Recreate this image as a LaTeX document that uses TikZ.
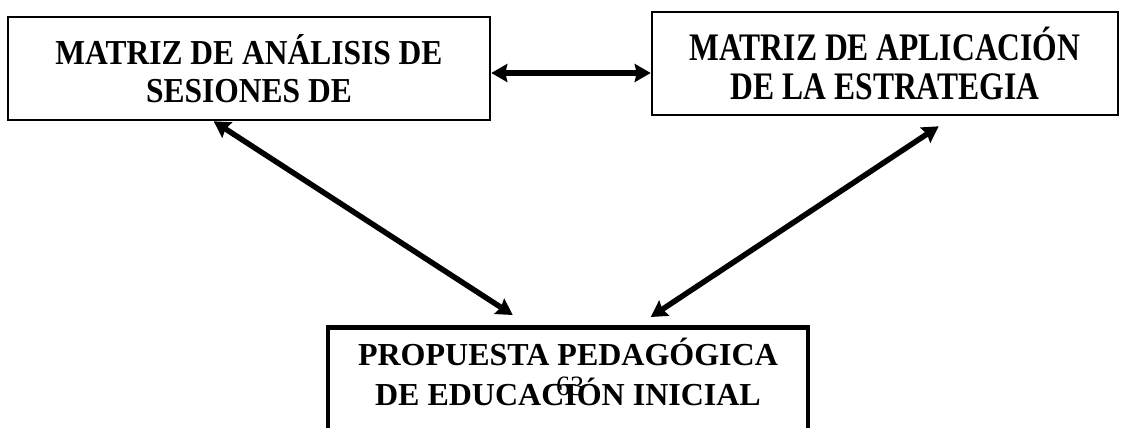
\documentclass[tikz,border=0pt]{standalone}
\usepackage{fontspec}
\setmainfont{Liberation Serif}
\newfontfamily\leftfont[FakeStretch=0.9]{Liberation Serif}
\newfontfamily\rightfont[FakeStretch=0.81]{Liberation Serif}
\usetikzlibrary{arrows.meta,positioning}
\tikzstyle{matriz} = [draw, rectangle, line width=2.6pt, align=center, inner sep=0pt]
\tikzstyle{propuesta} = [draw, rectangle, line width=4.5pt, inner sep=0pt]
\tikzstyle{link} = [line width=5.5pt]

\begin{document}
\begin{tikzpicture}[x=1pt, y=-1pt, auto, >={Stealth[length=16pt,width=18pt,inset=2pt]}]
	  \useasboundingbox (0,0) rectangle (1127,428);
	  \node [matriz, minimum width=482pt, minimum height=103pt,
	         font=\leftfont\fontsize{35}{38}\selectfont\bfseries] (analisis) at (249,68.5)
	    {MATRIZ DE ANÁLISIS DE\\ SESIONES DE};
	  \node [matriz, minimum width=466pt, minimum height=103pt,
	         font=\rightfont\fontsize{39}{39}\selectfont\bfseries] (aplicacion) at (885,63.5)
	    {MATRIZ DE APLICACIÓN\\ DE LA ESTRATEGIA};
	  \node [propuesta, anchor=north, minimum width=480pt, minimum height=130pt] (pedagogica) at (568,325) {};
	  \node [align=center, inner sep=0pt, font=\fontsize{32}{40}\selectfont\bfseries] (pedagogica-txt) at (568,372)
	    {PROPUESTA PEDAGÓGICA\\ DE EDUCACIÓN INICIAL};
	  \node [font=\fontsize{28}{28}\selectfont] (pagina) at (570,386) {63};
	
	  \coordinate (ana-out) at ([xshift=207pt]analisis.south west);
	  \coordinate (ped-in-left) at ([xshift=187pt, yshift=10pt]pedagogica.north west);
	  \coordinate (apl-out) at ([xshift=288pt, yshift=-10pt]aplicacion.south west);
	  \coordinate (ped-in-right) at ([xshift=325pt, yshift=8pt]pedagogica.north west);
	
	  \draw [link, <->] ([yshift=-4.5pt]analisis.east) -- ([yshift=-4.5pt]analisis.east -| aplicacion.west);
	  \draw [link, <->] (ana-out) -- (ped-in-left);
	  \draw [link, <->] (apl-out) -- (ped-in-right);
	\end{tikzpicture}
\end{document}
